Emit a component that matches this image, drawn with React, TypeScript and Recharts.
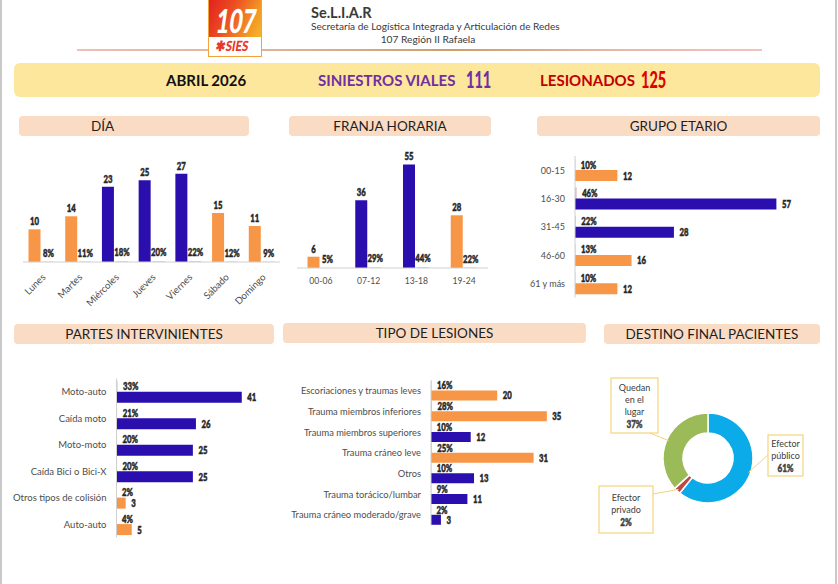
import { BarChart, Bar, XAxis, YAxis, Cell, LabelList, PieChart, Pie } from "recharts";

// Palette
const ORANGE = "#f79646";
const BLUE = "#2b0fae";
const SHARE_FILL = "#e4b6b4";
const AXIS_GRAY = "#d0d0d0";
const TICK_GRAY = "#4d4d4d";
const LABEL_INK = "#262626";
const PEACH = "#fadbc4";
const CALLOUT_GOLD = "#f3d47c";

const SANS = "Lato, 'Noto Sans', sans-serif";
// value labels are drawn in a heavy face squeezed horizontally
const SQUEEZE = 0.74;

// Header totals
const MONTH = "ABRIL 2026";
const SINIESTROS = 111;
const LESIONADOS = 125;

// Día
const DAYS = ["Lunes", "Martes", "Miércoles", "Jueves", "Viernes", "Sábado", "Domingo"];
const DAY_COUNTS = [10, 14, 23, 25, 27, 15, 11];
const DAY_PCT = [8, 11, 18, 20, 22, 12, 9];
const DAY_COLORS = [ORANGE, ORANGE, BLUE, BLUE, BLUE, ORANGE, ORANGE];

// Franja horaria
const HOURS = ["00-06", "07-12", "13-18", "19-24"];
const HOUR_COUNTS = [6, 36, 55, 28];
const HOUR_PCT = [5, 29, 44, 22];
const HOUR_COLORS = [ORANGE, BLUE, BLUE, ORANGE];

// Grupo etario
const AGES = ["00-15", "16-30", "31-45", "46-60", "61 y más"];
const AGE_COUNTS = [12, 57, 28, 16, 12];
const AGE_PCT = [10, 46, 22, 13, 10];
const AGE_COLORS = [ORANGE, BLUE, BLUE, ORANGE, ORANGE];

// Partes intervinientes
const PARTIES = ["Moto-auto", "Caída moto", "Moto-moto", "Caída Bici o  Bici-X", "Otros tipos de colisión", "Auto-auto"];
const PARTY_COUNTS = [41, 26, 25, 25, 3, 5];
const PARTY_PCT = [33, 21, 20, 20, 2, 4];
const PARTY_COLORS = [BLUE, BLUE, BLUE, BLUE, ORANGE, ORANGE];

// Tipo de lesiones
const INJURIES = [
  "Escoriaciones y traumas leves",
  "Trauma miembros inferiores",
  "Trauma miembros superiores",
  "Trauma cráneo leve",
  "Otros",
  "Trauma torácico/lumbar",
  "Trauma cráneo moderado/grave",
];
const INJURY_COUNTS = [20, 35, 12, 31, 13, 11, 3];
const INJURY_PCT = [16, 28, 10, 25, 10, 9, 2];
const INJURY_COLORS = [ORANGE, ORANGE, BLUE, ORANGE, BLUE, BLUE, BLUE];

// Destino final pacientes
const DESTINATIONS = ["Efector público", "Efector privado", "Quedan en el lugar"];
const DESTINATION_COUNTS = [76, 3, 46];
const DESTINATION_COLORS = ["#0aabe8", "#bd4841", "#9bbb59"];
const DESTINATION_LINES = [["Efector", "público"], ["Efector", "privado"], ["Quedan", "en el", "lugar"]];

// callout boxes, relative to the pie centre: box origin, size and where the leader line meets it
const CALLOUTS = [
  { x: 60, y: -23, w: 35, h: 41, ax: 60, ay: -3 },
  { x: -109, y: 28, w: 54, h: 47, ax: -55, ay: 36 },
  { x: -97, y: -80, w: 47, h: 55, ax: -58, ay: -25 },
];

type Row = { name: string; count: number; pct: number; share: number; color: string };

function buildRows(names: string[], counts: number[], pct: number[], colors: string[]): Row[] {
  return names.map((name, i) => ({ name, count: counts[i], pct: pct[i], share: pct[i] / 100, color: colors[i] }));
}

const dayRows = buildRows(DAYS, DAY_COUNTS, DAY_PCT, DAY_COLORS);
const hourRows = buildRows(HOURS, HOUR_COUNTS, HOUR_PCT, HOUR_COLORS);
const ageRows = buildRows(AGES, AGE_COUNTS, AGE_PCT, AGE_COLORS);
const partyRows = buildRows(PARTIES, PARTY_COUNTS, PARTY_PCT, PARTY_COLORS);
const injuryRows = buildRows(INJURIES, INJURY_COUNTS, INJURY_PCT, INJURY_COLORS);
const destinationRows = DESTINATIONS.map((name, i) => ({ name, value: DESTINATION_COUNTS[i] }));

function NarrowText({ x, y, anchor, text, size = 10.5, fill = LABEL_INK }: any) {
  return (
    <text
      transform={`translate(${x},${y}) scale(${SQUEEZE},1)`}
      textAnchor={anchor}
      dominantBaseline="central"
      fontSize={size}
      fontWeight={900}
      fontFamily={SANS}
      fill={fill}
      stroke={fill}
      strokeWidth={0.45}
    >
      {text}
    </text>
  );
}

// label above a column
const aboveLabel = (suffix: string, lift: number) => (props: any) => {
  const vb = props.viewBox ?? props;
  return <NarrowText key={`a${props.index}`} x={vb.x + vb.width / 2} y={vb.y - lift} anchor="middle" text={`${props.value}${suffix}`} />;
};

// label to the right of a horizontal bar
const besideLabel = (suffix: string) => (props: any) => {
  const vb = props.viewBox ?? props;
  return (
    <NarrowText key={`b${props.index}`} x={vb.x + Math.max(vb.width, 0) + 5.5} y={vb.y + vb.height / 2} anchor="start" text={`${props.value}${suffix}`} />
  );
};

function SlantedTick({ x, y, payload }: any) {
  return (
    <text
      transform={`translate(${x + 2},${y + 3}) rotate(-45)`}
      textAnchor="end"
      dominantBaseline="central"
      fontSize={9.7}
      fontFamily={SANS}
      fill={TICK_GRAY}
    >
      {payload.value}
    </text>
  );
}

function RowTick({ x, y, payload, size }: any) {
  return (
    <text x={x} y={y} textAnchor="end" dominantBaseline="central" fontSize={size} fontFamily={SANS} fill={TICK_GRAY}>
      {payload.value}
    </text>
  );
}

interface ColumnProps {
  rows: Row[];
  width: number;
  height: number;
  margin: { top: number; right: number; bottom: number; left: number };
  max: number;
  axisHeight: number;
  gap: string;
  slanted?: boolean;
}

function ColumnChart({ rows, width, height, margin, max, axisHeight, gap, slanted }: ColumnProps) {
  return (
    <BarChart width={width} height={height} data={rows} margin={margin} barCategoryGap={gap} barGap={2}>
      <XAxis
        dataKey="name"
        interval={0}
        height={axisHeight}
        axisLine={{ stroke: AXIS_GRAY }}
        tickLine={false}
        tickMargin={4}
        tick={slanted ? <SlantedTick /> : { fontSize: 8.6, fill: TICK_GRAY, fontFamily: SANS }}
      />
      <YAxis hide domain={[0, max]} />
      <Bar dataKey="count" isAnimationActive={false}>
        {rows.map((r) => (
          <Cell key={r.name} fill={r.color} />
        ))}
        <LabelList dataKey="count" content={aboveLabel("", 8)} />
      </Bar>
      <Bar dataKey="share" fill={SHARE_FILL} isAnimationActive={false}>
        <LabelList dataKey="pct" content={aboveLabel("%", 9)} />
      </Bar>
    </BarChart>
  );
}

interface RowChartProps {
  rows: Row[];
  width: number;
  height: number;
  margin: { top: number; right: number; bottom: number; left: number };
  max: number;
  labelWidth: number;
  gap: string;
  tickSize: number;
}

function RowChart({ rows, width, height, margin, max, labelWidth, gap, tickSize }: RowChartProps) {
  return (
    <BarChart layout="vertical" width={width} height={height} data={rows} margin={margin} barCategoryGap={gap} barGap={0}>
      <XAxis type="number" hide domain={[0, max]} />
      <YAxis
        type="category"
        dataKey="name"
        width={labelWidth}
        interval={0}
        axisLine={{ stroke: AXIS_GRAY }}
        tickLine={false}
        tickMargin={4}
        tick={<RowTick size={tickSize} />}
      />
      <Bar dataKey="share" fill={SHARE_FILL} isAnimationActive={false}>
        <LabelList dataKey="pct" content={besideLabel("%")} />
      </Bar>
      <Bar dataKey="count" isAnimationActive={false}>
        {rows.map((r) => (
          <Cell key={r.name} fill={r.color} />
        ))}
        <LabelList dataKey="count" content={besideLabel("")} />
      </Bar>
    </BarChart>
  );
}

const RADIAN = Math.PI / 180;

function renderCallout(props: any) {
  const { cx, cy, midAngle, outerRadius, percent, index } = props;
  const box = CALLOUTS[index];
  const lines = DESTINATION_LINES[index];
  const r = outerRadius - 2;
  const sx = cx + r * Math.cos(-midAngle * RADIAN);
  const sy = cy + r * Math.sin(-midAngle * RADIAN);
  const lineH = 12.3;
  const first = box.h / 2 - (lines.length * lineH) / 2;
  const mid = cx + box.x + box.w / 2;
  return (
    <g key={`callout-${index}`}>
      <line x1={sx} y1={sy} x2={cx + box.ax} y2={cy + box.ay} stroke={CALLOUT_GOLD} strokeWidth={1} />
      <rect x={cx + box.x} y={cy + box.y} width={box.w} height={box.h} fill="#fff" stroke={CALLOUT_GOLD} strokeWidth={1.2} />
      {lines.map((t, i) => (
        <text
          key={t}
          x={mid}
          y={cy + box.y + first + i * lineH}
          textAnchor="middle"
          dominantBaseline="central"
          fontSize={9}
          fontFamily={SANS}
          fill="#404040"
        >
          {t}
        </text>
      ))}
      <NarrowText x={mid} y={cy + box.y + first + lines.length * lineH} anchor="middle" text={`${Math.round(percent * 100)}%`} fill="#404040" size={11} />
    </g>
  );
}

function SectionTitle({ left, top, width, text, indent }: { left: number; top: number; width: number; text: string; indent?: number }) {
  return (
    <div
      style={{
        position: "absolute",
        left,
        top,
        width,
        height: 20,
        background: PEACH,
        borderRadius: 4,
        fontFamily: SANS,
        fontSize: 13.5,
        lineHeight: "20px",
        color: "#1e1e1e",
        textAlign: indent == null ? "center" : "left",
        paddingLeft: indent ?? 0,
        boxSizing: "border-box",
      }}
    >
      {text}
    </div>
  );
}

const abs = (left: number, top: number) => ({ position: "absolute" as const, left, top });

const bigNumber = (left: number, color: string) => ({
  ...abs(left, 0),
  lineHeight: "34px",
  fontFamily: SANS,
  fontWeight: 900,
  fontSize: 22,
  color,
  transform: "scaleX(0.66)",
  transformOrigin: "left center",
});

export default function App() {
  return (
    <div style={{ position: "relative", width: 838, height: 584, background: "#fff", overflow: "hidden" }}>
      <style>{"body{margin:0;background:#fff}"}</style>
      <div style={{ ...abs(0, 0), width: 2, height: 584, background: "#c8c8c8" }} />
      <div style={{ ...abs(835, 0), width: 2, height: 584, background: "#c8c8c8" }} />

      {/* header */}
      <div
        style={{
          ...abs(77, 49),
          width: 685,
          height: 2,
          background: "linear-gradient(90deg,#ecc0b6 0%,#d9b08e 35%,#c9a06a 55%,#e7b9ad 80%,#f0c4bc 100%)",
        }}
      />
      <div style={{ ...abs(208, 0), width: 54, height: 57, border: "1px solid #f2a33a", borderTop: "none", background: "#fff", overflow: "hidden", boxSizing: "border-box" }}>
        <div style={{ height: 37, background: "linear-gradient(115deg,#e2211f 0%,#ec4f22 40%,#f39a25 80%,#f7b52a 100%)" }}>
          <div
            style={{
              ...abs(8, 0),
              color: "#fff",
              fontFamily: SANS,
              fontWeight: 900,
              fontSize: 33,
              lineHeight: "40px",
              transform: "scaleX(0.68) skewX(-12deg)",
              transformOrigin: "left center",
            }}
          >
            107
          </div>
        </div>
        <div
          style={{
            ...abs(7, 37),
            color: "#e8392b",
            fontFamily: SANS,
            fontWeight: 900,
            fontSize: 14,
            lineHeight: "17px",
            transform: "scaleX(0.82) skewX(-12deg)",
            transformOrigin: "left center",
            whiteSpace: "nowrap",
          }}
        >
          ✱SIES
        </div>
      </div>
      <div style={{ ...abs(311, 3), fontFamily: SANS, fontWeight: 700, fontSize: 14.5, color: "#3a3a3a", lineHeight: "19px" }}>Se.L.I.A.R</div>
      <div style={{ ...abs(311, 20), fontFamily: SANS, fontSize: 10.1, color: "#3a3a3a", lineHeight: "13px", whiteSpace: "nowrap" }}>
        Secretaría de Logística Integrada y Articulación de Redes
      </div>
      <div style={{ ...abs(331, 33), width: 194, textAlign: "center", fontFamily: SANS, fontSize: 10.2, color: "#3a3a3a", lineHeight: "13px" }}>
        107 Región II Rafaela
      </div>

      {/* banner */}
      <div style={{ ...abs(14, 63), width: 806, height: 34, background: "#fde79c", borderRadius: 6 }}>
        <span style={{ ...abs(152, 0), lineHeight: "34px", fontFamily: SANS, fontWeight: 700, fontSize: 15, color: "#111" }}>{MONTH}</span>
        <span style={{ ...abs(304, 0), lineHeight: "34px", fontFamily: SANS, fontWeight: 700, fontSize: 15, color: "#7030a0" }}>SINIESTROS VIALES</span>
        <span style={bigNumber(452, "#7030a0")}>{SINIESTROS}</span>
        <span style={{ ...abs(526, 0), lineHeight: "34px", fontFamily: SANS, fontWeight: 700, fontSize: 15, color: "#c00000" }}>LESIONADOS</span>
        <span style={bigNumber(627, "#e00000")}>{LESIONADOS}</span>
      </div>

      {/* section titles */}
      <SectionTitle left={19} top={116} width={230} text="DÍA" indent={72} />
      <SectionTitle left={289} top={116} width={202} text="FRANJA HORARIA" />
      <SectionTitle left={537} top={116} width={283} text="GRUPO ETARIO" />
      <SectionTitle left={14} top={324} width={260} text="PARTES INTERVINIENTES" />
      <SectionTitle left={283} top={323} width={303} text="TIPO DE LESIONES" />
      <SectionTitle left={604} top={324} width={216} text="DESTINO FINAL PACIENTES" />

      <div style={abs(0, 150)}>
        <ColumnChart
          rows={dayRows}
          width={285}
          height={162}
          margin={{ top: 14, right: 5, bottom: 0, left: 23 }}
          max={30}
          axisHeight={50}
          gap="15%"
          slanted
        />
      </div>

      <div style={abs(280, 140)}>
        <ColumnChart
          rows={hourRows}
          width={215}
          height={160}
          margin={{ top: 15, right: 7, bottom: 0, left: 17 }}
          max={60}
          axisHeight={32}
          gap="22%"
        />
      </div>

      <div style={abs(530, 150)}>
        <RowChart
          rows={ageRows}
          width={300}
          height={152}
          margin={{ top: 6, right: 43, bottom: 4.5, left: 0 }}
          max={60}
          labelWidth={45}
          gap="11%"
          tickSize={9}
        />
      </div>

      <div style={abs(0, 370)}>
        <RowChart
          rows={partyRows}
          width={280}
          height={175}
          margin={{ top: 8.5, right: 26, bottom: 7.7, left: 0 }}
          max={45}
          labelWidth={116.5}
          gap="8.5%"
          tickSize={9.5}
        />
      </div>

      <div style={abs(280, 370)}>
        <RowChart
          rows={injuryRows}
          width={310}
          height={160}
          margin={{ top: 10.3, right: 26.6, bottom: 4.7, left: 0 }}
          max={40}
          labelWidth={151}
          gap="1%"
          tickSize={9.3}
        />
      </div>

      <div style={abs(590, 350)}>
        <PieChart width={245} height={195} margin={{ top: 0, right: 0, bottom: 0, left: 0 }}>
          <Pie
            data={destinationRows}
            dataKey="value"
            nameKey="name"
            cx={118}
            cy={108}
            innerRadius={25}
            outerRadius={45}
            startAngle={90}
            endAngle={-270}
            stroke="#fff"
            strokeWidth={1.5}
            label={renderCallout}
            labelLine={false}
            isAnimationActive={false}
          >
            {destinationRows.map((d, i) => (
              <Cell key={d.name} fill={DESTINATION_COLORS[i]} />
            ))}
          </Pie>
        </PieChart>
      </div>
    </div>
  );
}
